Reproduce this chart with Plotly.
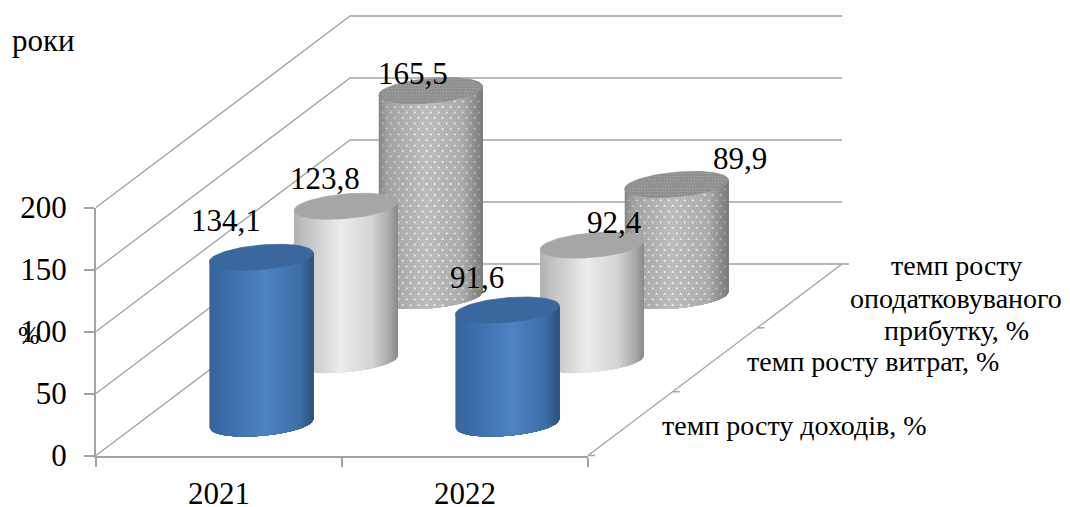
import numpy as np
import plotly.graph_objects as go

# Chart data
years = ["2021", "2022"]
series_names = [
    "темп росту доходів, %",
    "темп росту витрат, %",
    "темп росту<br>оподатковуваного<br>прибутку, %",
]
income_growth = [134.1, 91.6]
cost_growth = [123.8, 92.4]
profit_growth = [165.5, 89.9]
value_ticks = [0, 50, 100, 150, 200]

all_series = [income_growth, cost_growth, profit_growth]

# Page and plot geometry, in pixels
W, H = 1070, 507
X0, X_END = 96, 588
Y0, Y200 = 455.5, 207.5
PX_PER_CAT = (X_END - X0) / 2
PX_PER_VAL = (Y0 - Y200) / 200
# Oblique depth offset of the whole three-series floor
DEPTH_PX_X, DEPTH_PX_Y = 254.0, 191.5
KX = DEPTH_PX_X / 3 / PX_PER_CAT
KY = DEPTH_PX_Y / 3 / PX_PER_VAL
# Cylinder radius along the category axis and along the depth axis
R_CAT = 49.0 / PX_PER_CAT
R_DEPTH = 13.0 / (DEPTH_PX_Y / 3)


def project(cat, depth, value):
    """Oblique projection of (category, depth, value) onto the overlay axes."""
    return cat + depth * KX, value + depth * KY


def ramp(stops, f):
    xs, cols = zip(*stops)
    rgb = [np.interp(f, xs, [c[i] for c in cols]) for i in range(3)]
    return "rgb(%d,%d,%d)" % tuple(int(round(c)) for c in rgb)


BODY_STOPS = [
    [(0, (56, 100, 152)), (0.1, (58, 106, 164)), (0.55, (78, 130, 196)), (0.88, (60, 108, 164)), (1, (44, 82, 126))],
    [(0, (176, 176, 176)), (0.1, (192, 192, 192)), (0.45, (236, 236, 236)), (0.75, (212, 212, 212)), (0.92, (168, 168, 168)), (1, (136, 136, 136))],
    [(0, (134, 134, 134)), (0.08, (164, 164, 164)), (0.45, (192, 192, 192)), (0.8, (174, 174, 174)), (1, (122, 122, 122))],
]
CAP_COLORS = ["#3a689e", "#a6a6a6", "#8f8f8f"]
GRID = "#a3a3a3"

fig = go.Figure()


def add_line(xs, ys, width=1.3):
    fig.add_trace(go.Scatter(x=xs, y=ys, mode="lines", xaxis="x2", yaxis="y2",
                             line=dict(color=GRID, width=width), hoverinfo="skip", showlegend=False))


# Real axes carry the value and year ticks; this trace keeps them on the page
fig.add_trace(go.Scatter(x=years, y=income_growth, mode="none", hoverinfo="skip", showlegend=False))

# Walls and floor
left, right = -0.5, 1.5
for v in value_ticks:
    a = project(left, 0, v)
    b = project(left, 3, v)
    c = project(right, 3, v)
    add_line([a[0], b[0], c[0]], [a[1], b[1], c[1]])
a, b = project(right, 0, 0), project(right, 3, 0)
add_line([a[0], b[0]], [a[1], b[1]])
for k in range(4):
    p = project(right, k, 0)
    add_line([p[0], p[0] + 7 / PX_PER_CAT], [p[1], p[1]], 1.5)

theta0 = np.arctan2(R_DEPTH * DEPTH_PX_X / 3, R_CAT * PX_PER_CAT)
HALF_WIDTH_PX = np.hypot(R_CAT * PX_PER_CAT, R_DEPTH * DEPTH_PX_X / 3)


def front_point(f, cat, depth):
    """Point on the near half of the base circle at screen fraction f across."""
    t = theta0 + 2 * np.pi - np.arccos(2 * np.asarray(f) - 1)
    return cat + R_CAT * np.cos(t), depth + R_DEPTH * np.sin(t)


def add_dots(cat, depth, value, spacing_x, spacing_y, size, colour_at):
    half = HALF_WIDTH_PX
    cx_px = project(cat, depth, 0)[0] * PX_PER_CAT
    xs, ys, cols = [], [], []
    base = project(cat, depth, 0)[1] * PX_PER_VAL
    rows = np.arange(base - 20, base + value * PX_PER_VAL + 20, spacing_y)
    for r, row in enumerate(rows):
        col_x = np.arange(-half, half, spacing_x) + (spacing_x / 2 if r % 2 else 0)
        for dx in col_x:
            f = (dx + half) / (2 * half)
            if not 0.01 < f < 0.99:
                continue
            c, d = front_point(f, cat, depth)
            _, low = project(c, d, 0)
            _, high = project(c, d, value)
            if low * PX_PER_VAL + 1 < row < high * PX_PER_VAL - 1:
                xs.append((cx_px + dx) / PX_PER_CAT)
                ys.append(row / PX_PER_VAL)
                cols.append(colour_at(f))
    fig.add_trace(go.Scatter(x=xs, y=ys, mode="markers", xaxis="x2", yaxis="y2",
                             marker=dict(size=size, color=cols, line=dict(width=0)),
                             hoverinfo="skip", showlegend=False))


def add_cap_grain(cat, depth, value, spacing=3.0):
    # Fine light grain across the top face, kept inside the tilted ellipse
    r = np.arange(-1, 1.001, spacing / (R_CAT * PX_PER_CAT))
    s = np.arange(-1, 1.001, spacing / (R_DEPTH * DEPTH_PX_Y / 3))
    xs, ys = [], []
    for j, sv in enumerate(s):
        for rv in r + (r[1] - r[0]) / 2 * (j % 2):
            if rv * rv + sv * sv < 0.9:
                px, py = project(cat + R_CAT * rv, depth + R_DEPTH * sv, value)
                xs.append(px)
                ys.append(py)
    fig.add_trace(go.Scatter(x=xs, y=ys, mode="markers", xaxis="x2", yaxis="y2",
                             marker=dict(size=1.5, color="rgba(185,185,185,0.55)", line=dict(width=0)),
                             hoverinfo="skip", showlegend=False))


def add_cylinder(cat, s, value):
    depth = s + 0.5
    n = 70
    edges = np.linspace(0, 1, n + 1)
    for k in range(n):
        # Each band runs to the right-hand edge and the next one paints over it,
        # which leaves no seams between neighbouring bands
        fs = np.linspace(edges[k], 1, max(3, (n - k) // 2 + 2))
        c, d = front_point(fs, cat, depth)
        xl, yl = project(c, d, 0)
        xh, yh = project(c, d, value)
        colour = ramp(BODY_STOPS[s], (edges[k] + edges[k + 1]) / 2)
        fig.add_trace(go.Scatter(
            x=np.r_[xl, xh[::-1], xl[0]], y=np.r_[yl, yh[::-1], yl[0]],
            mode="lines", fill="toself", fillcolor=colour, xaxis="x2", yaxis="y2",
            line=dict(width=0), hoverinfo="skip", showlegend=False))

    if s == 2:
        # Dotted fill on the profit series: fine grain plus sparse light dots
        add_dots(cat, depth, value, 3.0, 3.0, 1.3,
                 lambda f: "rgba(120,120,120,0.25)")
        add_dots(cat, depth, value, 8.0, 5.5, 2.4,
                 lambda f: "rgba(245,245,245,%.2f)" % (0.2 + 0.55 * np.sin(np.pi * f)))

    # Top cap
    t = np.linspace(0, 2 * np.pi, 90)
    xc, yc = project(cat + R_CAT * np.cos(t), depth + R_DEPTH * np.sin(t), value)
    fig.add_trace(go.Scatter(x=xc, y=yc, mode="lines", fill="toself", fillcolor=CAP_COLORS[s],
                             xaxis="x2", yaxis="y2", line=dict(color=CAP_COLORS[s], width=0.8),
                             hoverinfo="skip", showlegend=False))
    if s == 2:
        add_cap_grain(cat, depth, value)


# Painted from the back row forward so nearer cylinders cover farther ones
for s in (2, 1, 0):
    for i, v in enumerate(all_series[s]):
        add_cylinder(i, s, v)

# Hand-placed value labels, as pixel offsets from each cylinder's top centre
label_offsets = {
    (0, 0): (-35, 37), (0, 1): (-21, 28), (0, 2): (-18, 17),
    (1, 0): (-30, 33), (1, 1): (22, 23), (1, 2): (63, 26),
}
annotations = []
for s, values in enumerate(all_series):
    for i, v in enumerate(values):
        px, py = project(i, s + 0.5, v)
        dx, dy = label_offsets[(i, s)]
        annotations.append(dict(
            x=px, y=py, xref="x2", yref="y2", xshift=dx, yshift=dy, showarrow=False,
            text=f"{v:.1f}".replace(".", ","), font=dict(size=31)))


def page_note(text, px, py, size):
    return dict(x=px / W, y=1 - py / H, xref="paper", yref="paper", text=text, showarrow=False,
                xanchor="center", yanchor="middle", align="center", font=dict(size=size))


# The three-line label is set line by line for its tight leading
profit_lines = series_names[2].split("<br>")
annotations += [
    page_note(series_names[0], 794, 425, 28),
    page_note(series_names[1], 873, 361, 28),
    page_note(profit_lines[0], 956, 265, 28),
    page_note(profit_lines[1], 956, 298, 28),
    page_note(profit_lines[2], 956, 330, 28),
    page_note("роки", 43.5, 41, 31),
    page_note("%", 29, 335, 26),
]

fig.update_layout(
    width=W, height=H, margin=dict(l=0, r=0, t=0, b=0, autoexpand=False),
    paper_bgcolor="white", plot_bgcolor="rgba(0,0,0,0)",
    font=dict(family="Liberation Serif", color="black"),
    showlegend=False, annotations=annotations,
    xaxis=dict(type="category", categoryorder="array", categoryarray=years,
               domain=[X0 / W, X_END / W], range=[-0.5, 1.5], tickson="boundaries",
               ticks="outside", ticklen=9, tickwidth=1.5, tickcolor=GRID, showline=True,
               linecolor=GRID, linewidth=2, showgrid=False, zeroline=False,
               tickfont=dict(size=31), ticklabelstandoff=9, anchor="y", automargin=False),
    yaxis=dict(domain=[1 - Y0 / H, 1 - Y200 / H], range=[0, 200], tickvals=value_ticks,
               ticks="outside", ticklen=10, tickwidth=1.5, tickcolor=GRID, showline=True,
               linecolor=GRID, linewidth=2, showgrid=False, zeroline=False,
               tickfont=dict(size=31), ticklabelstandoff=11, anchor="x", automargin=False),
    xaxis2=dict(domain=[0, 1], range=[-X0 / PX_PER_CAT - 0.5, (W - X0) / PX_PER_CAT - 0.5],
                visible=False, anchor="y2", fixedrange=True, automargin=False),
    yaxis2=dict(domain=[0, 1], range=[(Y0 - H) / PX_PER_VAL, Y0 / PX_PER_VAL],
                visible=False, anchor="x2", fixedrange=True, automargin=False),
)

fig.write_html("out.html", config=dict(displayModeBar=False))
